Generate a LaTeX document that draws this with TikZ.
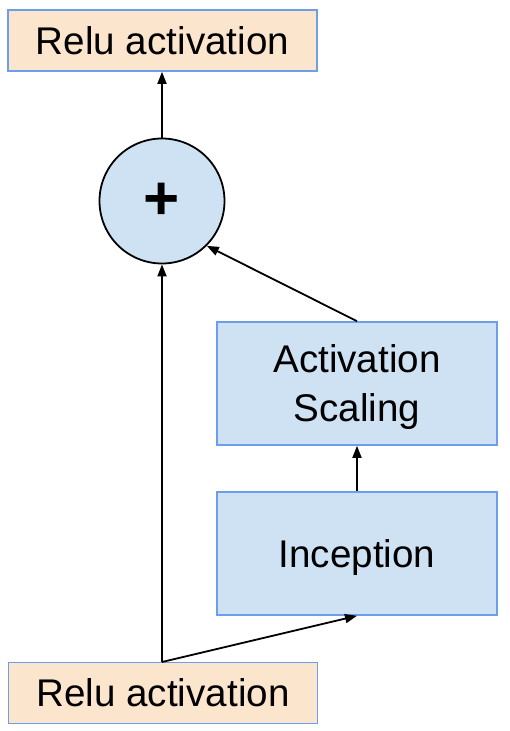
\documentclass[tikz,border=0pt]{standalone}
\usepackage{fontspec}
\setmainfont{Liberation Sans}
\usetikzlibrary{arrows.meta}
\definecolor{reluPeach}{RGB}{252,229,205}
\definecolor{blockBlue}{RGB}{207,226,243}
\definecolor{edgeBlue}{RGB}{109,158,235}

\begin{document}
\begin{tikzpicture}[x=1pt,y=-1pt,
  bigtext/.style={font=\fontsize{38.6}{49}\selectfont},
  relubox/.style={bigtext,draw=edgeBlue,fill=reluPeach,line width=1.6pt,minimum width=309pt,minimum height=61pt,inner sep=0pt,text height=27pt,text depth=0pt},
  blockbox/.style={bigtext,draw=edgeBlue,fill=blockBlue,line width=1.6pt,minimum width=280pt,minimum height=123pt,inner sep=0pt,align=center},
  addnode/.style={circle,draw=black,fill=blockBlue,line width=1.8pt,minimum size=125pt,inner sep=0pt},
  flow/.style={line width=1.8pt,-{Triangle[length=12pt,width=9pt]}}]
\useasboundingbox (0,0) rectangle (510,731);

\node[relubox] (reluTop) at (162.5,40.5) {Relu activation};
\node[addnode] (plus) at (162,201) {\fontsize{62}{62}\selectfont\bfseries +};
\node[blockbox,text depth=0pt] (scaling) at (357,383.5) {Activation\\Scaling};
\node[blockbox,text height=27pt,text depth=0pt] (inception) at (357,553.5) {Inception};
\node[relubox] (reluBot) at (163,693) {Relu activation};
\coordinate (split) at (162,662);

\draw[flow] (plus.north) -- (plus.north |- reluTop.south);
\draw[flow] (scaling.north) -- (plus.-45);
\draw[flow] (inception.north) -- (scaling.south);
\draw[flow] (split) -- (plus.south);
\draw[flow] (split) -- (inception.south);
\end{tikzpicture}
\end{document}
